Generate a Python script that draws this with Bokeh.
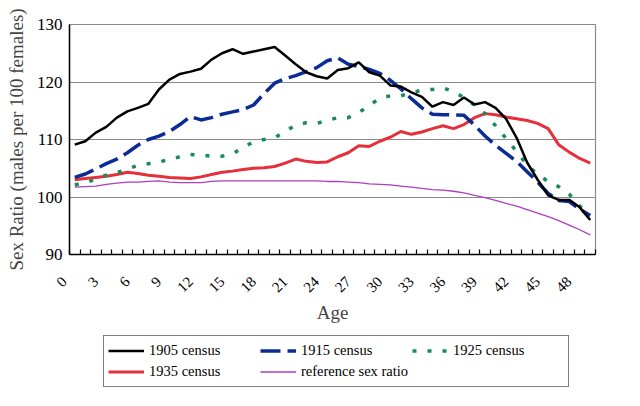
from bokeh.plotting import figure
from bokeh.models import FixedTicker, Legend, LegendItem, ColumnDataSource
from bokeh.layouts import column
from bokeh.embed import file_html
from bokeh.resources import INLINE
import math

ages = list(range(50))
tick_ages = list(range(0, 49, 3))
y_ticks = [90, 100, 110, 120, 130]

census_1905 = [109.1, 109.7, 111.2, 112.2, 113.8, 114.9, 115.5, 116.2, 118.7, 120.4,
               121.4, 121.8, 122.3, 123.9, 125.0, 125.7, 124.9, 125.3, 125.7, 126.1,
               124.6, 123.1, 121.7, 121.0, 120.6, 122.1, 122.4, 123.4, 121.7, 121.1,
               119.4, 119.2, 118.2, 117.4, 115.7, 116.5, 116.0, 117.3, 116.1, 116.5,
               115.5, 113.6, 110.3, 106.0, 103.0, 100.3, 99.5, 99.5, 98.2, 96.0]
census_1915 = [103.4, 104.0, 104.9, 105.8, 106.6, 107.7, 109.0, 110.0, 110.6, 111.4,
               112.6, 114.0, 113.4, 113.8, 114.4, 114.8, 115.2, 116.0, 118.0, 119.8,
               120.6, 121.1, 121.8, 122.5, 123.7, 124.2, 123.1, 122.7, 122.2, 121.5,
               120.3, 118.8, 117.1, 115.5, 114.4, 114.3, 114.3, 114.2, 112.5, 110.6,
               109.0, 107.6, 106.2, 104.4, 102.6, 100.6, 99.4, 99.2, 97.9, 96.8]
census_1925 = [102.1, 102.5, 103.1, 103.8, 104.2, 104.9, 105.5, 105.8, 106.1, 106.5,
               107.0, 107.4, 107.3, 107.1, 107.1, 107.5, 108.6, 109.6, 110.0, 110.3,
               111.4, 112.5, 112.9, 112.8, 113.3, 113.8, 113.8, 114.7, 115.9, 117.2,
               117.6, 117.6, 118.1, 118.6, 118.7, 119.0, 118.3, 117.3, 116.0, 114.5,
               112.4, 110.2, 107.9, 105.6, 103.9, 102.7, 101.8, 100.5, 98.4, 97.2]
census_1935 = [103.0, 103.2, 103.4, 103.6, 103.9, 104.3, 104.1, 103.8, 103.6, 103.4,
               103.3, 103.2, 103.5, 103.9, 104.3, 104.5, 104.8, 105.0, 105.1, 105.3,
               105.9, 106.6, 106.2, 106.0, 106.1, 107.0, 107.7, 108.9, 108.8, 109.7,
               110.4, 111.4, 110.9, 111.3, 111.9, 112.4, 111.9, 112.6, 113.8, 114.5,
               114.3, 113.9, 113.6, 113.3, 112.8, 111.9, 109.1, 107.8, 106.7, 105.9]
reference_ratio = [101.7, 101.8, 101.9, 102.2, 102.4, 102.6, 102.6, 102.7, 102.8, 102.6,
                   102.5, 102.5, 102.5, 102.7, 102.8, 102.8, 102.8, 102.8, 102.8, 102.8,
                   102.8, 102.8, 102.8, 102.8, 102.7, 102.7, 102.6, 102.5, 102.3, 102.2,
                   102.1, 101.9, 101.7, 101.5, 101.3, 101.2, 101.0, 100.7, 100.3, 99.9,
                   99.4, 98.9, 98.4, 97.8, 97.2, 96.6, 95.9, 95.1, 94.3, 93.4]

series_labels = ["1905 census", "1915 census", "1925 census", "1935 census", "reference sex ratio"]

FONT = "Liberation Serif"
TOP_H = 330

p = figure(width=640, height=TOP_H, x_range=(-0.5, 49.5), y_range=(90, 130),
           output_backend="svg", toolbar_location=None,
           min_border_left=69, min_border_right=45, min_border_top=24, min_border_bottom=TOP_H - 254,
           background_fill_color="white", border_fill_color="white")

p.outline_line_color = "#8a8a8a"
p.outline_line_width = 1.2

# grid
p.xgrid.grid_line_color = None
p.ygrid.ticker = FixedTicker(ticks=y_ticks)
p.ygrid.grid_line_color = "#8a8a8a"
p.ygrid.grid_line_width = 1.2

# y axis
p.yaxis.ticker = FixedTicker(ticks=y_ticks)
p.yaxis.axis_line_color = "black"
p.yaxis.axis_line_width = 1.5
p.yaxis.major_tick_out = 0
p.yaxis.major_tick_in = 0
p.yaxis.minor_tick_line_color = None
p.yaxis.major_label_standoff = 7
p.yaxis.major_label_text_font = FONT
p.yaxis.major_label_text_font_size = "17px"
p.yaxis.major_label_text_color = "black"
p.yaxis.axis_label = "Sex Ratio (males per 100 females)"
p.yaxis.axis_label_text_font = FONT
p.yaxis.axis_label_text_font_size = "19px"
p.yaxis.axis_label_text_font_style = "normal"
p.yaxis.axis_label_standoff = 7

# x axis
p.xaxis.ticker = FixedTicker(ticks=tick_ages, minor_ticks=[a - 0.5 for a in ages] + [49.5])
p.xaxis.major_label_overrides = {a: str(a) + "\u00a0" * 4 for a in tick_ages}
p.xaxis.axis_line_color = "black"
p.xaxis.axis_line_width = 1.5
p.xaxis.major_tick_out = 0
p.xaxis.major_tick_in = 0
p.xaxis.minor_tick_in = 5
p.xaxis.minor_tick_out = 0
p.xaxis.minor_tick_line_color = "black"
p.xaxis.minor_tick_line_width = 1.2
p.xaxis.major_label_orientation = math.pi / 4
p.xaxis.major_label_standoff = 14
p.xaxis.major_label_text_font = FONT
p.xaxis.major_label_text_font_size = "15px"
p.xaxis.major_label_text_color = "black"
p.xaxis.axis_label = "Age"
p.xaxis.axis_label_text_font = FONT
p.xaxis.axis_label_text_font_size = "19px"
p.xaxis.axis_label_text_font_style = "normal"
p.xaxis.axis_label_standoff = -2

src = ColumnDataSource(dict(age=ages, c1905=census_1905, c1915=census_1915, c1925=census_1925,
                            c1935=census_1935, ref=reference_ratio))

styles = [
    ("c1905", dict(line_color="black", line_width=2.5)),
    ("c1915", dict(line_color="#0b2c96", line_width=3.5, line_dash="20 7")),
    ("c1925", dict(line_color="#1a8a5a", line_width=3.5, line_dash="4 11")),
    ("c1935", dict(line_color="#e5303c", line_width=3)),
    ("ref", dict(line_color="#b03cc0", line_width=1.3)),
]

# draw order: reference first, 1905 on top
for col, st in [styles[4], styles[3], styles[2], styles[1], styles[0]]:
    p.line("age", col, source=src, **st)

# legend strip below (its own small figure; its lines lie outside its view)
p2 = figure(width=640, height=406 - TOP_H, x_range=(1000, 1001), y_range=(1000, 1001),
            output_backend="svg", toolbar_location=None, x_axis_type=None, y_axis_type=None,
            min_border_left=0, min_border_right=0, min_border_top=0, min_border_bottom=0,
            background_fill_color="white", border_fill_color="white")
p2.outline_line_color = None
p2.xgrid.grid_line_color = None
p2.ygrid.grid_line_color = None

leg_renderers = [p2.line("age", col, source=src, **st) for col, st in styles]

pad_last = "\u00a0" * 8
legend_labels = [series_labels[0], series_labels[1], series_labels[2] + pad_last,
                 series_labels[3], series_labels[4]]
legend = Legend(items=[LegendItem(label=lab, renderers=[r]) for lab, r in zip(legend_labels, leg_renderers)],
                ncols=3, location=(34, 19), orientation="horizontal")
legend.border_line_color = "black"
legend.border_line_width = 1.5
legend.background_fill_color = "white"
legend.background_fill_alpha = 1
legend.label_text_font = FONT
legend.label_text_font_size = "14.5px"
legend.label_text_color = "black"
legend.glyph_width = 36
legend.glyph_height = 21
legend.label_height = 21
legend.label_width = 111
legend.label_standoff = 5
legend.spacing = 0
legend.padding = 4
legend.margin = 0
p2.add_layout(legend, "center")

layout = column(p, p2, spacing=0)
open("out.html", "w").write(file_html(layout, INLINE))
